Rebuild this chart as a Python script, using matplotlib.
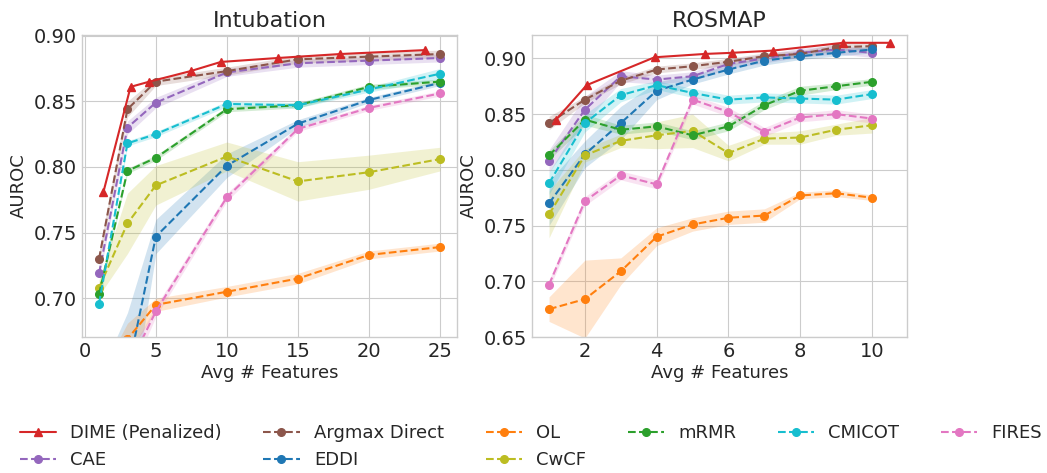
import numpy as np
import matplotlib
matplotlib.use('Agg')
import matplotlib.pyplot as plt

plt.style.use('seaborn-v0_8-whitegrid')
plt.rcParams['font.family'] = ['DejaVu Sans']

# --- Data: Intubation ---
int_x = [1, 3, 5, 10, 15, 20, 25]
int_dime_x = [1.31, 3.22, 4.55, 7.44, 9.58, 13.6, 17.96, 23.94]
int_dime_y = [0.781, 0.861, 0.865, 0.873, 0.880, 0.883, 0.886, 0.889]
int_argmax = [0.730, 0.844, 0.865, 0.873, 0.882, 0.884, 0.886]
int_cae = [0.719, 0.830, 0.849, 0.872, 0.879, 0.881, 0.883]
int_eddi = [0.600, 0.643, 0.747, 0.801, 0.833, 0.851, 0.864]
int_ol = [0.630, 0.669, 0.695, 0.705, 0.715, 0.733, 0.739]
int_cwcf = [0.708, 0.757, 0.786, 0.808, 0.789, 0.796, 0.806]
int_mrmr = [0.703, 0.797, 0.807, 0.844, 0.847, 0.861, 0.865]
int_cmicot = [0.696, 0.818, 0.825, 0.848, 0.847, 0.859, 0.871]
int_fires = [0.600, 0.646, 0.690, 0.777, 0.829, 0.845, 0.856]

int_argmax_sd = [0.005, 0.006, 0.003, 0.003, 0.003, 0.003, 0.003]
int_cae_sd = [0.004, 0.005, 0.004, 0.003, 0.003, 0.003, 0.003]
int_eddi_sd = [0.040, 0.046, 0.013, 0.009, 0.003, 0.002, 0.002]
int_ol_sd = [0.010, 0.012, 0.005, 0.004, 0.004, 0.003, 0.003]
int_cwcf_sd = [0.006, 0.023, 0.015, 0.011, 0.015, 0.013, 0.009]
int_mrmr_sd = [0.003, 0.002, 0.002, 0.002, 0.002, 0.002, 0.002]
int_cmicot_sd = [0.003, 0.002, 0.002, 0.002, 0.002, 0.002, 0.004]
int_fires_sd = [0.010, 0.010, 0.004, 0.003, 0.002, 0.002, 0.002]

# --- Data: ROSMAP ---
ros_x = [1, 2, 3, 4, 5, 6, 7, 8, 9, 10]
ros_dime_x = [1.195, 2.049, 3.94, 5.34, 6.09, 7.23, 9.19, 10.51]
ros_dime_y = [0.845, 0.876, 0.901, 0.904, 0.905, 0.907, 0.914, 0.914]
ros_argmax = [0.842, 0.863, 0.880, 0.890, 0.893, 0.897, 0.902, 0.904, 0.910, 0.911]
ros_cae = [0.808, 0.854, 0.884, 0.881, 0.884, 0.895, 0.900, 0.905, 0.908, 0.905]
ros_eddi = [0.770, 0.814, 0.842, 0.871, 0.881, 0.890, 0.898, 0.902, 0.905, 0.908]
ros_ol = [0.675, 0.684, 0.709, 0.740, 0.751, 0.757, 0.759, 0.777, 0.779, 0.775]
ros_cwcf = [0.760, 0.813, 0.826, 0.831, 0.835, 0.815, 0.828, 0.829, 0.836, 0.840]
ros_mrmr = [0.813, 0.845, 0.836, 0.839, 0.831, 0.839, 0.858, 0.871, 0.875, 0.879]
ros_cmicot = [0.788, 0.842, 0.867, 0.876, 0.869, 0.863, 0.865, 0.864, 0.863, 0.868]
ros_fires = [0.697, 0.772, 0.795, 0.787, 0.863, 0.852, 0.834, 0.847, 0.850, 0.846]

ros_argmax_sd = [0.006, 0.003, 0.003, 0.003, 0.003, 0.003, 0.003, 0.003, 0.003, 0.003]
ros_cae_sd = [0.010, 0.012, 0.005, 0.004, 0.004, 0.004, 0.004, 0.004, 0.004, 0.004]
ros_eddi_sd = [0.020, 0.012, 0.015, 0.008, 0.004, 0.004, 0.004, 0.003, 0.003, 0.003]
ros_ol_sd = [0.011, 0.035, 0.012, 0.008, 0.006, 0.006, 0.006, 0.003, 0.003, 0.0025]
ros_cwcf_sd = [0.021, 0.006, 0.006, 0.012, 0.015, 0.007, 0.005, 0.006, 0.005, 0.007]
ros_mrmr_sd = [0.004, 0.005, 0.004, 0.004, 0.004, 0.004, 0.004, 0.004, 0.003, 0.003]
ros_cmicot_sd = [0.010, 0.008, 0.006, 0.004, 0.004, 0.004, 0.004, 0.004, 0.004, 0.004]
ros_fires_sd = [0.004, 0.004, 0.004, 0.004, 0.004, 0.004, 0.004, 0.004, 0.004, 0.004]

# (label, color) in legend order
methods = [
    ('CAE', 'tab:purple'),
    ('Argmax Direct', 'tab:brown'),
    ('EDDI', 'tab:blue'),
    ('OL', 'tab:orange'),
    ('CwCF', 'tab:olive'),
    ('mRMR', 'tab:green'),
    ('CMICOT', 'tab:cyan'),
    ('FIRES', 'tab:pink'),
]

int_vals = {'CAE': (int_cae, int_cae_sd), 'Argmax Direct': (int_argmax, int_argmax_sd),
            'EDDI': (int_eddi, int_eddi_sd), 'OL': (int_ol, int_ol_sd),
            'CwCF': (int_cwcf, int_cwcf_sd), 'mRMR': (int_mrmr, int_mrmr_sd),
            'CMICOT': (int_cmicot, int_cmicot_sd), 'FIRES': (int_fires, int_fires_sd)}
ros_vals = {'CAE': (ros_cae, ros_cae_sd), 'Argmax Direct': (ros_argmax, ros_argmax_sd),
            'EDDI': (ros_eddi, ros_eddi_sd), 'OL': (ros_ol, ros_ol_sd),
            'CwCF': (ros_cwcf, ros_cwcf_sd), 'mRMR': (ros_mrmr, ros_mrmr_sd),
            'CMICOT': (ros_cmicot, ros_cmicot_sd), 'FIRES': (ros_fires, ros_fires_sd)}

FS = 13

fig = plt.figure(figsize=(10.47, 4.73), dpi=100)
ax1 = fig.add_axes([0.0783, 0.2875, 0.3582, 0.6385])
ax2 = fig.add_axes([0.5081, 0.2875, 0.3582, 0.6385])


def draw(ax, x, dime_x, dime_y, vals):
    ax.plot(dime_x, dime_y, '-', marker='^', color='tab:red', lw=1.5, ms=6,
            label='DIME (Penalized)', zorder=5)
    for name, col in methods:
        y, sd = vals[name]
        y = np.array(y)
        sd = np.array(sd)
        ax.fill_between(x, y - sd, y + sd, color=col, alpha=0.2, lw=0)
        ax.plot(x, y, '--', marker='o', color=col, lw=1.5, ms=5.5, label=name)
    ax.tick_params(labelsize=14)
    ax.set_xlabel('Avg # Features', fontsize=FS, labelpad=2)
    ax.set_ylabel('AUROC', fontsize=FS)
    for s in ax.spines.values():
        s.set_color('#cccccc')


draw(ax1, int_x, int_dime_x, int_dime_y, int_vals)
ax1.set_title('Intubation', fontsize=16)
ax1.set_xlim(-0.2, 26.2)
ax1.set_ylim(0.6705, 0.9005)
ax1.set_xticks([0, 5, 10, 15, 20, 25])
ax1.set_yticks([0.70, 0.75, 0.80, 0.85, 0.90])

draw(ax2, ros_x, ros_dime_x, ros_dime_y, ros_vals)
ax2.set_title('ROSMAP', fontsize=16)
ax2.set_xlim(0.525, 10.975)
ax2.set_ylim(0.65, 0.921)
ax2.set_xticks([2, 4, 6, 8, 10])
ax2.set_yticks([0.65, 0.70, 0.75, 0.80, 0.85, 0.90])

h, l = ax1.get_legend_handles_labels()
order = ['DIME (Penalized)', 'CAE', 'Argmax Direct', 'EDDI', 'OL', 'CwCF', 'mRMR', 'CMICOT', 'FIRES']
hh = [h[l.index(n)] for n in order]
fig.legend(hh, order, loc='center', bbox_to_anchor=(0.507, 0.055), ncol=6,
           frameon=False, fontsize=FS, handlelength=2.0, columnspacing=2.3)

fig.savefig('out.png', dpi=100)
